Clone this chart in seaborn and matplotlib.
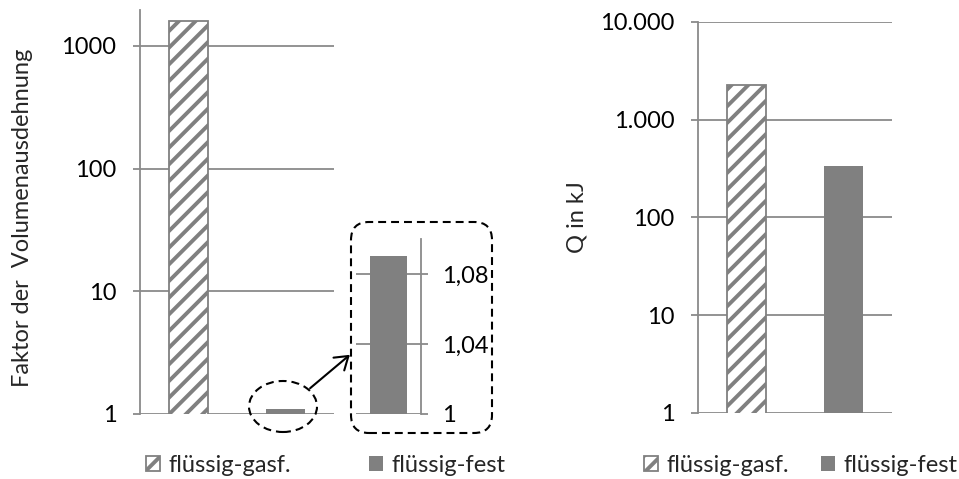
import matplotlib
matplotlib.use('Agg')
import matplotlib.pyplot as plt
import seaborn as sns
import pandas as pd
from matplotlib.patches import FancyBboxPatch, Ellipse, Patch, FancyArrowPatch
from matplotlib.transforms import IdentityTransform

# ---------------- data ----------------
categories = ['flüssig-gasf.', 'flüssig-fest']
expansion = [1600, 1.09]           # Faktor der Volumenausdehnung
heat_kj = [2257, 333]              # Q in kJ
inset_category = ['flüssig-fest']
inset_value = [1.09]

left_ticks = [1, 10, 100, 1000]
left_labels = ['1', '10', '100', '1000']
right_ticks = [1, 10, 100, 1000, 10000]
right_labels = ['1', '10', '100', '1.000', '10.000']
inset_ticks = [1, 1.04, 1.08]
inset_labels = ['1', '1,04', '1,08']

# ---------------- style ----------------
GRAY = '#808080'
GRID = '#8a8a8a'
FS = 17

sns.set_theme(style='white')
plt.rcParams['font.family'] = ['Lato', 'DejaVu Sans']
plt.rcParams['hatch.linewidth'] = 2.8
plt.rcParams['hatch.color'] = GRAY

W, H = 959, 479
fig = plt.figure(figsize=(W / 100, H / 100), dpi=100)


def ax_at(x0, y_top, x1, y_bot):
    return fig.add_axes([x0 / W, 1 - y_bot / H, (x1 - x0) / W, (y_bot - y_top) / H])


def fx(x):
    return x / W


def fy(y):
    return 1 - y / H


def style_axis(ax, ticks, labels, side='left'):
    for s in ['top', 'right', 'bottom', 'left']:
        ax.spines[s].set_visible(False)
    ax.spines[side].set_visible(True)
    ax.spines[side].set_color(GRID)
    ax.spines[side].set_linewidth(1.3)
    ax.set_yticks(ticks)
    ax.set_yticklabels(labels)
    ax.minorticks_off()
    ax.tick_params(axis='y', which='major', length=5, width=1.3, color=GRID,
                   labelsize=FS, pad=12, direction='out', left=(side == 'left'),
                   right=(side == 'right'), labelleft=(side == 'left'),
                   labelright=(side == 'right'), labelcolor='black')
    ax.tick_params(axis='x', bottom=False, labelbottom=False)
    ax.set_xlabel('')
    ax.set_ylabel('')
    ax.yaxis.grid(True, color=GRID, linewidth=1.3)
    ax.set_axisbelow(True)
    ax.set_facecolor('none')


def color_bars(ax):
    p0, p1 = ax.patches[0], ax.patches[1]
    p0.set_facecolor('white')
    p0.set_edgecolor(GRAY)
    p0.set_hatch('//')
    p0.set_linewidth(1.3)
    p1.set_facecolor(GRAY)
    p1.set_edgecolor('none')


# ---------------- left chart ----------------
axL = ax_at(140, 10, 334, 414)
axL.set_yscale('log')
dfL = pd.DataFrame({'Kategorie': categories, 'Wert': expansion})
sns.barplot(data=dfL, x='Kategorie', y='Wert', ax=axL, color=GRAY,
            width=0.4, saturation=1, errorbar=None)
color_bars(axL)
axL.set_xlim(-0.5, 1.5)
axL.set_ylim(1, 10 ** 3.293)
style_axis(axL, left_ticks, left_labels)

fig.text(fx(23), fy(218), 'Faktor der  Volumenausdehnung', rotation=90,
         ha='center', va='center', fontsize=FS)

# inset
axI = ax_at(356, 239, 420.7, 414)
dfI = pd.DataFrame({'Kategorie': inset_category, 'Wert': inset_value})
sns.barplot(data=dfI, x='Kategorie', y='Wert', ax=axI, color=GRAY,
            width=0.57, saturation=1, errorbar=None)
axI.patches[0].set_edgecolor('none')
axI.set_xlim(-0.5, 0.5)
axI.set_ylim(1, 1.1)
style_axis(axI, inset_ticks, inset_labels, side='right')
axI.tick_params(axis='y', pad=10)

# annotation shapes in pixel coordinates (origin bottom-left)
DASH = (0, (3.8, 2.4))
box = FancyBboxPatch((351, H - 433), 492 - 351, 433 - 222,
                     boxstyle='round,pad=0.0,rounding_size=18',
                     transform=IdentityTransform(), fill=False, edgecolor='black',
                     linewidth=1.5, linestyle=DASH)
fig.add_artist(box)

ell = Ellipse((283, H - 406.5), 68, 51, transform=IdentityTransform(),
              fill=False, edgecolor='black', linewidth=1.5, linestyle=DASH)
fig.add_artist(ell)

fig.add_artist(FancyArrowPatch(
    (308, H - 390), (352, H - 353), transform=IdentityTransform(),
    arrowstyle='->,head_length=6,head_width=4', color='black', linewidth=1.5,
    mutation_scale=1.5))

# ---------------- right chart ----------------
axR = ax_at(698, 22, 892, 412.7)
axR.set_yscale('log')
dfR = pd.DataFrame({'Kategorie': categories, 'Wert': heat_kj})
sns.barplot(data=dfR, x='Kategorie', y='Wert', ax=axR, color=GRAY,
            width=0.4, saturation=1, errorbar=None)
color_bars(axR)
axR.set_xlim(-0.5, 1.5)
axR.set_ylim(1, 10000)
style_axis(axR, right_ticks, right_labels)

fig.text(fx(577), fy(217), 'Q in kJ', rotation=90, ha='center', va='center',
         fontsize=FS)

# ---------------- legends ----------------
handles = [Patch(facecolor='white', edgecolor=GRAY, hatch='//', linewidth=1.3,
                 label=categories[0]),
           Patch(facecolor=GRAY, edgecolor='none', label=categories[1])]

for x0, colsp in [(146, 3.3), (644, 1.35)]:
    fig.legend(handles=handles, loc='center left', bbox_to_anchor=(fx(x0), fy(465)),
               ncol=2, frameon=False, fontsize=FS, handlelength=0.6,
               handleheight=0.6, handletextpad=0.35, columnspacing=colsp,
               borderpad=0, borderaxespad=0)

fig.savefig('out.png', dpi=100)
